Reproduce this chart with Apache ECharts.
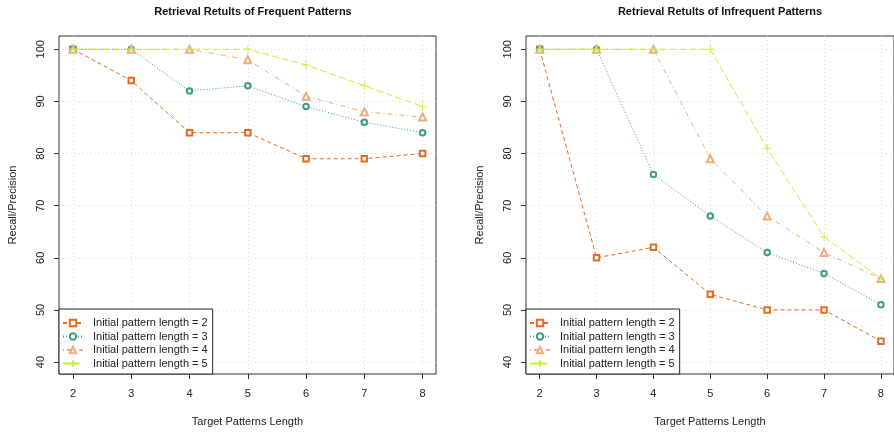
<!DOCTYPE html>
<html>
<head>
<meta charset="utf-8">
<script src="https://cdn.jsdelivr.net/npm/echarts@6/dist/echarts.min.js"></script>
<style>
  html, body { margin: 0; padding: 0; background: #fff; }
  #chart { width: 894px; height: 432px; }
</style>
</head>
<body>
<div id="chart"></div>
<script>
// x = target pattern length, y = recall/precision (%)
const targetLengths = [2, 3, 4, 5, 6, 7, 8];
const yTicks = [40, 50, 60, 70, 80, 90, 100];
const legendNames = [
  'Initial pattern length = 2',
  'Initial pattern length = 3',
  'Initial pattern length = 4',
  'Initial pattern length = 5'
];

// frequent patterns
const freqLen2 = [100, 94, 84, 84, 79, 79, 80];
const freqLen3 = [100, 100, 92, 93, 89, 86, 84];
const freqLen4 = [100, 100, 100, 98, 91, 88, 87];
const freqLen5 = [100, 100, 100, 100, 97, 93, 89];

// infrequent patterns
const infreqLen2 = [100, 60, 62, 53, 50, 50, 44];
const infreqLen3 = [100, 100, 76, 68, 61, 57, 51];
const infreqLen4 = [100, 100, 100, 79, 68, 61, 56];
const infreqLen5 = [100, 100, 100, 100, 81, 64, 56];

const FONT = '"Liberation Sans", Arial, sans-serif';

// style per initial length: color, dash, marker
const styles = [
  { color: '#E36C1F', dash: [4, 3], symbol: 'emptyRect', size: 5.5 },
  { color: '#3E9C7F', dash: [1, 2], symbol: 'emptyCircle', size: 5.5 },
  { color: '#E8B07F', dash: [1, 3, 5, 3], symbol: 'emptyTriangle', size: 7 },
  { color: '#C3F03C', dash: [7, 3], symbol: 'path://M5,0L5,10M0,5L10,5', size: 8 }
];

const chart = echarts.init(document.getElementById('chart'));

function makeSeries(values, i, gridIdx) {
  const s = styles[i];
  return {
    name: legendNames[i],
    type: 'line',
    xAxisIndex: gridIdx,
    yAxisIndex: gridIdx,
    data: targetLengths.map((x, k) => [x, values[k]]),
    symbol: s.symbol,
    symbolSize: s.size,
    showAllSymbol: true,
    lineStyle: { color: s.color, width: 1, type: s.dash },
    itemStyle: { color: s.color, borderColor: s.color, borderWidth: 0.9 },
    z: 3 + i
  };
}

function xAxisCfg(gridIdx) {
  return {
    type: 'value',
    gridIndex: gridIdx,
    min: 1.76,
    max: 8.23,
    name: 'Target Patterns Length',
    nameLocation: 'middle',
    nameGap: 42,
    nameTextStyle: { fontFamily: FONT, fontSize: 11, color: '#222' },
    axisLine: { show: false },
    axisTick: { show: true, length: 5, customValues: targetLengths, lineStyle: { color: '#333' } },
    axisLabel: { customValues: targetLengths, fontFamily: FONT, fontSize: 11, color: '#222', margin: 14 },
    splitLine: { show: true, lineStyle: { color: '#d9d9d9', type: [1, 3] } }
  };
}

function yAxisCfg(gridIdx) {
  return {
    type: 'value',
    gridIndex: gridIdx,
    min: 37.7,
    max: 102.55,
    name: 'Recall/Precision',
    nameLocation: 'middle',
    nameGap: 41,
    nameTextStyle: { fontFamily: FONT, fontSize: 11, color: '#222' },
    axisLine: { show: false },
    axisTick: { show: true, length: 5, customValues: yTicks, lineStyle: { color: '#333' } },
    axisLabel: { customValues: yTicks, rotate: 90, fontFamily: FONT, fontSize: 11, color: '#222', margin: 13 },
    splitLine: { show: true, lineStyle: { color: '#d9d9d9', type: [1, 3] } }
  };
}

function legendCfg(left) {
  return {
    orient: 'vertical',
    left: left,
    top: 309,
    data: legendNames,
    itemWidth: 20,
    itemHeight: 8,
    itemGap: 2.5,
    padding: [8.5, 5, 5, 3],
    backgroundColor: '#fff',
    borderColor: '#222',
    borderWidth: 1,
    borderRadius: 0,
    selectedMode: false,
    textStyle: { fontFamily: FONT, fontSize: 11, color: '#222', padding: [0, 0, 0, 5] }
  };
}

const option = {
  animation: false,
  backgroundColor: '#fff',
  title: [
    {
      text: 'Retrieval Retults of Frequent Patterns',
      left: 248, top: 1, textAlign: 'center',
      textStyle: { fontFamily: FONT, fontSize: 11, fontWeight: 'bold', color: '#111' }
    },
    {
      text: 'Retrieval Retults of Infrequent Patterns',
      left: 715, top: 1, textAlign: 'center',
      textStyle: { fontFamily: FONT, fontSize: 11, fontWeight: 'bold', color: '#111' }
    }
  ],
  grid: [
    { left: 59, top: 36, width: 377, height: 338, show: true, borderColor: '#333', borderWidth: 1, backgroundColor: 'transparent' },
    { left: 526, top: 36, width: 377, height: 338, show: true, borderColor: '#333', borderWidth: 1, backgroundColor: 'transparent' }
  ],
  xAxis: [xAxisCfg(0), xAxisCfg(1)],
  yAxis: [yAxisCfg(0), yAxisCfg(1)],
  legend: [legendCfg(59), legendCfg(526)],
  series: [
    makeSeries(freqLen2, 0, 0),
    makeSeries(freqLen3, 1, 0),
    makeSeries(freqLen4, 2, 0),
    makeSeries(freqLen5, 3, 0),
    makeSeries(infreqLen2, 0, 1),
    makeSeries(infreqLen3, 1, 1),
    makeSeries(infreqLen4, 2, 1),
    makeSeries(infreqLen5, 3, 1)
  ]
};

chart.setOption(option);
</script>
</body>
</html>
